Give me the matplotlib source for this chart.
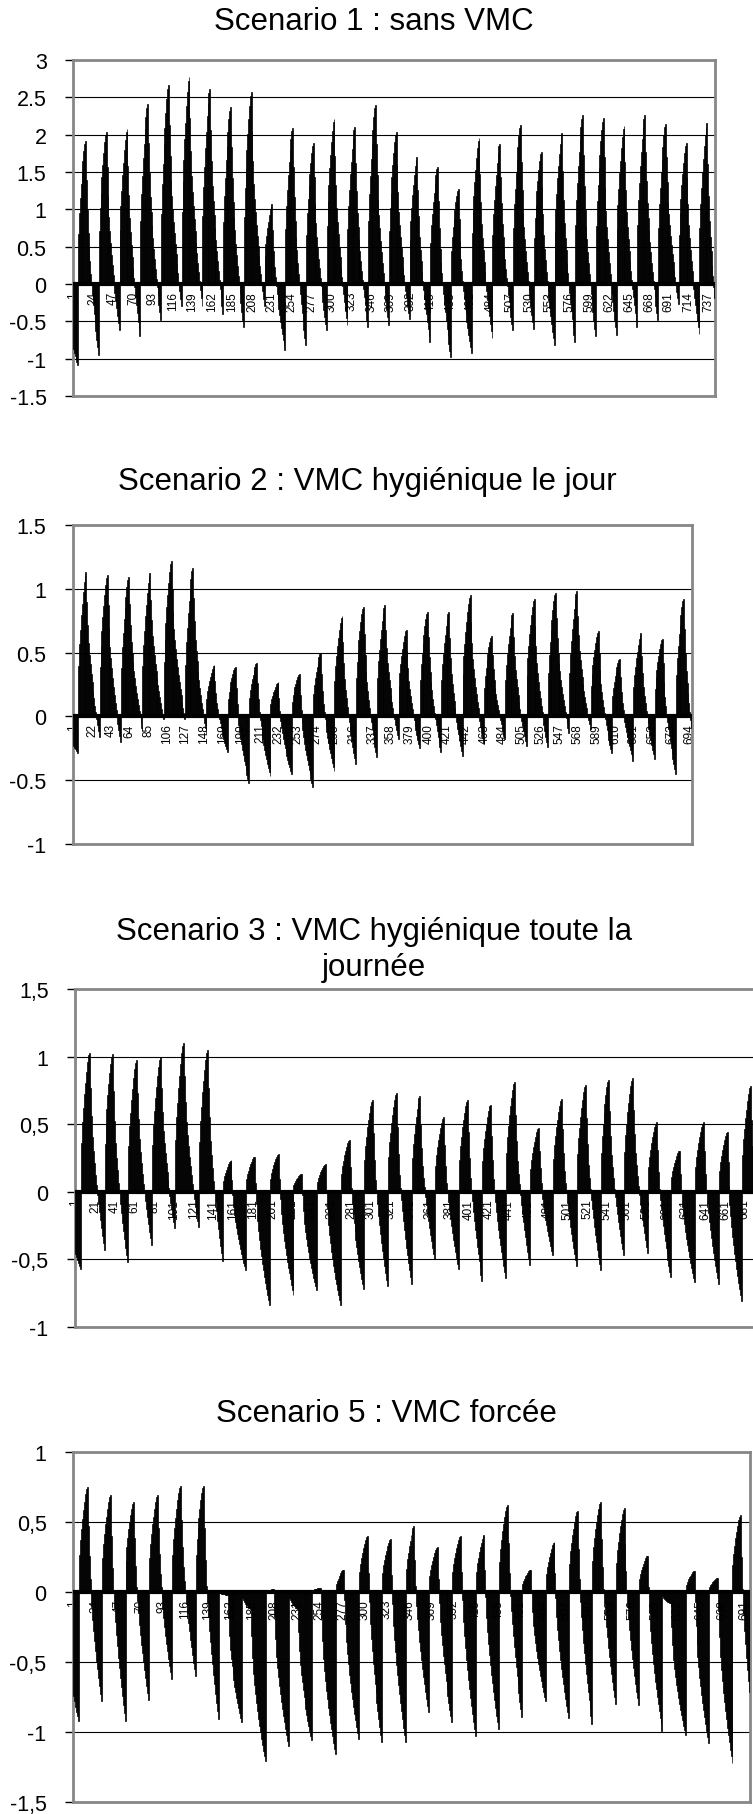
import numpy as np
import matplotlib.pyplot as plt

plt.rcParams['font.family'] = ['Liberation Sans', 'DejaVu Sans']

# Daily maxima (around 14h) and minima (around 5h)
s1_peaks = [1.91, 2.04, 2.08, 2.41, 2.67, 2.77, 2.61, 2.37, 2.57, 1.07, 2.09, 1.89, 2.21, 2.10, 2.40, 2.04,
            1.70, 1.57, 1.27, 1.96, 1.88, 2.13, 1.77, 2.02, 2.26, 2.22, 2.12, 2.26, 2.14, 1.89, 2.15]
s1_troughs = [-1.08, -0.95, -0.62, -0.70, -0.48, -0.30, -0.30, -0.40, -0.58, -0.30, -0.88, -0.82, -0.62,
              -0.55, -0.57, -0.55, -0.47, -0.78, -0.98, -0.92, -0.72, -0.62, -0.60, -0.82, -0.78, -0.70,
              -0.68, -0.58, -0.48, -0.27, -0.67, -0.90]

s2_peaks = [1.13, 1.11, 1.09, 1.12, 1.22, 1.16, 0.40, 0.39, 0.42, 0.27, 0.33, 0.50, 0.79, 0.86, 0.87,
            0.68, 0.82, 0.82, 0.95, 0.63, 0.81, 0.92, 0.97, 0.98, 0.67, 0.45, 0.65, 0.61, 0.92]
s2_troughs = [-0.29, -0.16, -0.20, -0.09, -0.02, -0.02, -0.14, -0.28, -0.52, -0.47, -0.45, -0.55, -0.43,
              -0.37, -0.32, -0.18, -0.25, -0.28, -0.31, -0.21, -0.18, -0.23, -0.24, -0.13, -0.10, -0.29,
              -0.35, -0.33, -0.45, -0.40]

s3_peaks = [1.03, 1.02, 0.975, 0.995, 1.10, 1.05, 0.235, 0.26, 0.28, 0.135, 0.205, 0.385, 0.68, 0.73,
            0.71, 0.55, 0.68, 0.645, 0.81, 0.475, 0.685, 0.79, 0.83, 0.84, 0.515, 0.305, 0.515, 0.445, 0.78]
s3_troughs = [-0.57, -0.43, -0.52, -0.39, -0.27, -0.26, -0.51, -0.58, -0.84, -0.76, -0.73, -0.84, -0.72,
              -0.70, -0.68, -0.50, -0.57, -0.66, -0.64, -0.54, -0.47, -0.55, -0.58, -0.47, -0.45, -0.63,
              -0.67, -0.68, -0.81, -0.60]

s5_peaks = [0.75, 0.69, 0.64, 0.69, 0.76, 0.76, -0.02, -0.12, 0.02, -0.12, 0.03, 0.16, 0.40, 0.38, 0.47,
            0.32, 0.40, 0.41, 0.62, 0.16, 0.36, 0.58, 0.64, 0.60, 0.26, -0.08, 0.15, 0.10, 0.55]
s5_troughs = [-0.92, -0.78, -0.92, -0.77, -0.62, -0.60, -0.91, -0.93, -1.21, -1.10, -1.06, -1.16, -1.05,
              -1.07, -1.07, -0.86, -0.93, -1.03, -0.98, -0.89, -0.78, -0.90, -0.94, -0.80, -0.81, -0.99,
              -1.02, -1.08, -1.22, -1.10]

# typical hourly shape of one day
rise_shape = [0.35, 0.50, 0.60, 0.70, 0.78, 0.86, 0.93, 0.98]            # 6h..13h, share of the peak
fall_shape = [1.0, 0.82, 0.68, 0.57, 0.50, 0.44, 0.38, 0.33, 0.28, 0.235,
              0.19, 0.15, 0.11, 0.07, 0.035, 0.0]                          # 14h..5h next day


def hourly(peaks, troughs, n):
    vals = []
    for d in range(len(peaks)):
        prev = peaks[d - 1] if d > 0 else 0.0
        for h in range(24):
            if h < 6:
                v = troughs[d] + (prev - troughs[d]) * fall_shape[h + 10]
            elif h < 14:
                v = peaks[d] * rise_shape[h - 6]
            else:
                v = troughs[d + 1] + (peaks[d] - troughs[d + 1]) * fall_shape[h - 14]
            vals.append(v)
    return np.array(vals[:n])


W, H = 753, 1815
fig = plt.figure(figsize=(W / 100, H / 100), dpi=100)


def panel(box, title, title_xy, values, ylim, step, label_step, comma):
    left, top, right, bottom = box
    ax = fig.add_axes([left / W, 1 - bottom / H, (right - left) / W, (bottom - top) / H])
    x = np.arange(len(values))
    ax.bar(x, values, width=1.0, color='black', edgecolor='black', linewidth=0.5, zorder=3)
    ax.set_xlim(-0.5, len(values) - 0.5)
    ax.set_ylim(*ylim)
    ticks = np.arange(ylim[0], ylim[1] + step / 2, step)
    ax.set_yticks(ticks)
    labs = ['%g' % t for t in ticks]
    if comma:
        labs = [s.replace('.', ',') for s in labs]
    ax.set_yticklabels(labs, fontsize=15.5)
    ax.tick_params(axis='y', direction='out', length=6, width=1, pad=13, color='black')
    ax.set_xticks([])
    for t in ticks:
        ax.axhline(t, color='black', lw=0.8, zorder=1)
    ax.axhline(0, color='black', lw=3, zorder=4)
    for s in ax.spines.values():
        s.set_color('#878787')
        s.set_linewidth(2)
    for c in range(1, len(values) + 1, label_step):
        ax.annotate(str(c), (c - 1, 0), xytext=(0, -5), textcoords='offset points',
                    rotation=90, ha='center', va='top', fontsize=8.5, zorder=2)
    fig.text(title_xy[0] / W, 1 - title_xy[1] / H, title, ha='center', va='center',
             fontsize=22.5, linespacing=1.3)
    return ax


panel((73, 61, 715, 397), 'Scenario 1 : sans VMC', (374, 22),
      hourly(s1_peaks, s1_troughs, 744), (-1.5, 3), 0.5, 23, False)
panel((73, 526, 692, 845), 'Scenario 2 : VMC hygiénique le jour', (367, 482),
      hourly(s2_peaks, s2_troughs, 696), (-1, 1.5), 0.5, 21, False)
panel((75, 990, 760, 1328), 'Scenario 3 : VMC hygiénique toute la\njournée', (374, 950),
      hourly(s3_peaks, s3_troughs, 696), (-1, 1.5), 0.5, 20, True)
panel((73, 1453, 750, 1803), 'Scenario 5 : VMC forcée', (386, 1414),
      hourly(s5_peaks, s5_troughs, 696), (-1.5, 1), 0.5, 23, True)

fig.savefig('out.png', dpi=100)
